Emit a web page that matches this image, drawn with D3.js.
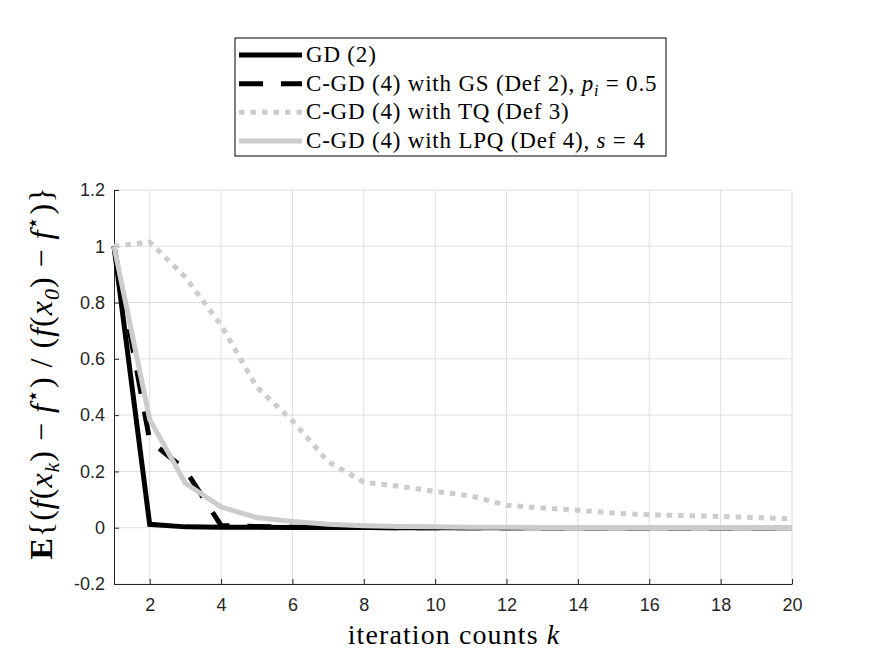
<!DOCTYPE html>
<html lang="en">
<head>
<meta charset="UTF-8">
<title>C-GD convergence</title>
<script src="https://d3js.org/d3.v7.min.js"></script>
<style>
  body { margin: 0; background: #fff; }
  svg { display: block; }
  .tick text { font-family: "Liberation Sans", Arial, sans-serif; font-size: 18px; fill: #262626; }
  .serif { font-family: "Liberation Serif", "Times New Roman", serif; fill: #000; }
</style>
</head>
<body>
<div id="chart"></div>
<script>
// iteration index and the four curves
const iterations = [1, 2, 3, 4, 5, 6, 7, 8, 9, 10, 11, 12, 13, 14, 15, 16, 17, 18, 19, 20];
const gd  = [1, 0.012, 0.003, 0.002, 0.002, 0.001, 0.001, 0.001, 0, 0, 0, 0, 0, 0, 0, 0, 0, 0, 0, 0];
const gs  = [1, 0.31, 0.205, 0.008, 0.004, 0.002, 0.001, 0.001, 0, 0, 0, 0, 0, 0, 0, 0, 0, 0, 0, 0];
const tq  = [1.0, 1.015, 0.89, 0.72, 0.50, 0.38, 0.235, 0.162, 0.147, 0.129, 0.113, 0.08, 0.07, 0.062, 0.052, 0.046, 0.043, 0.04, 0.036, 0.032];
const lpq = [1, 0.385, 0.158, 0.074, 0.036, 0.022, 0.012, 0.007, 0.004, 0.003, 0.002, 0.002, 0.001, 0.001, 0.001, 0.001, 0.001, 0.001, 0.001, 0.001];

const xTicks = [2, 4, 6, 8, 10, 12, 14, 16, 18, 20];
const yTicks = [-0.2, 0, 0.2, 0.4, 0.6, 0.8, 1, 1.2];
const yTickLabels = ["-0.2", "0", "0.2", "0.4", "0.6", "0.8", "1", "1.2"];

const series = [
  { name: "gd",  values: gd,  color: "#000000", dash: null },
  { name: "gs",  values: gs,  color: "#000000", dash: "24,18" },
  { name: "tq",  values: tq,  color: "#cccccc", dash: "5.5,6" },
  { name: "lpq", values: lpq, color: "#cccccc", dash: null }
];

const W = 875, H = 656;
const margin = { top: 190, right: 83, bottom: 72, left: 114 };
const width = W - margin.left - margin.right;
const height = H - margin.top - margin.bottom;

const root = d3.select("#chart").append("svg")
  .attr("width", W)
  .attr("height", H);

const svg = root.append("g")
  .attr("transform", `translate(${margin.left},${margin.top})`);

const x = d3.scaleLinear().domain([1, 20]).range([0, width]);
const y = d3.scaleLinear().domain([-0.2, 1.2]).range([height, 0]);

// grid
svg.append("g")
  .selectAll("line")
  .data(xTicks)
  .join("line")
  .attr("x1", d => x(d)).attr("x2", d => x(d))
  .attr("y1", 0).attr("y2", height)
  .attr("stroke", "#dfdfdf").attr("stroke-width", 1);

svg.append("g")
  .selectAll("line")
  .data(yTicks)
  .join("line")
  .attr("x1", 0).attr("x2", width)
  .attr("y1", d => y(d)).attr("y2", d => y(d))
  .attr("stroke", "#dfdfdf").attr("stroke-width", 1);

// axes
const xAxis = svg.append("g")
  .attr("transform", `translate(0,${height})`)
  .call(d3.axisBottom(x).tickValues(xTicks).tickSizeInner(-5).tickSizeOuter(0).tickPadding(14));

const yAxis = svg.append("g")
  .call(d3.axisLeft(y).tickValues(yTicks).tickFormat((d, i) => yTickLabels[i])
    .tickSizeInner(-5).tickSizeOuter(0).tickPadding(9));

[xAxis, yAxis].forEach(a => {
  a.select(".domain").attr("stroke", "#262626").attr("stroke-width", 1);
  a.selectAll(".tick line").attr("stroke", "#262626");
});
xAxis.selectAll(".tick text").attr("dy", "0.71em");

// curves
const line = d3.line()
  .x((d, i) => x(iterations[i]))
  .y(d => y(d));

svg.append("g")
  .selectAll("path")
  .data(series)
  .join("path")
  .attr("d", d => line(d.values))
  .attr("fill", "none")
  .attr("stroke", d => d.color)
  .attr("stroke-width", 5)
  .attr("stroke-linejoin", "miter")
  .attr("stroke-dasharray", d => d.dash);

// axis labels
root.append("text")
  .attr("class", "serif")
  .attr("x", 454)
  .attr("y", 644)
  .attr("text-anchor", "middle")
  .style("font-size", "28px")
  .style("letter-spacing", "1.1px")
  .call(t => {
    t.append("tspan").text("iteration counts ");
    t.append("tspan").attr("font-style", "italic").text("k");
  });

const yl = root.append("text")
  .attr("class", "serif")
  .attr("transform", "translate(52,373) rotate(-90)")
  .attr("text-anchor", "middle")
  .style("font-size", "32px")
  .style("letter-spacing", "1px");

const parts = [
  ["E", "bold"], ["{(", ""], ["f", "it"], ["(", ""], ["x", "it"], ["k", "sub"], [")", "unsub"],
  [" − ", ""], ["f", "it"], ["⋆", "sup"], [")", "unsup"], [" / ", ""], ["(", ""], ["f", "it"], ["(", ""],
  ["x", "it"], ["0", "sub"], [")", "unsub"], [" − ", ""], ["f", "it"], ["⋆", "sup"], [")}", "unsup"]
];
parts.forEach(([s, k]) => {
  const ts = yl.append("tspan").text(s);
  if (k === "bold") ts.attr("font-weight", "bold");
  if (k === "it") ts.attr("font-style", "italic");
  if (k === "sub") ts.attr("font-style", "italic").attr("dy", 7).style("font-size", "22px");
  if (k === "unsub") ts.attr("dy", -7);
  if (k === "sup") ts.attr("dy", -12).style("font-size", "22px");
  if (k === "unsup") ts.attr("dy", 12);
});

// legend
const legend = root.append("g").attr("transform", "translate(235,38)");
legend.append("rect")
  .attr("width", 431).attr("height", 118)
  .attr("fill", "#fff").attr("stroke", "#000").attr("stroke-width", 1);

const legendRows = [
  [["GD (2)", ""]],
  [["C-GD (4) with GS (Def 2), ", ""], ["p", "it"], ["i", "sub"], [" = 0.5", "unsub"]],
  [["C-GD (4) with TQ (Def 3)", ""]],
  [["C-GD (4) with LPQ (Def 4), ", ""], ["s", "it"], [" = 4", ""]]
];

const rowY = d3.scalePoint().domain(d3.range(legendRows.length)).range([17, 103]);

legendRows.forEach((row, i) => {
  const s = series[i];
  const gy = rowY(i);
  legend.append("line")
    .attr("x1", 4).attr("x2", 67)
    .attr("y1", gy).attr("y2", gy)
    .attr("stroke", s.color).attr("stroke-width", 5)
    .attr("stroke-dasharray", s.dash);
  const t = legend.append("text")
    .attr("class", "serif")
    .attr("x", 71).attr("y", gy + 7)
    .style("font-size", "23px")
    .style("letter-spacing", "0.8px");
  row.forEach(([str, k]) => {
    const ts = t.append("tspan").text(str);
    if (k === "it") ts.attr("font-style", "italic");
    if (k === "sub") ts.attr("font-style", "italic").attr("dy", 5).style("font-size", "16px");
    if (k === "unsub") ts.attr("dy", -5);
  });
});
</script>
</body>
</html>
